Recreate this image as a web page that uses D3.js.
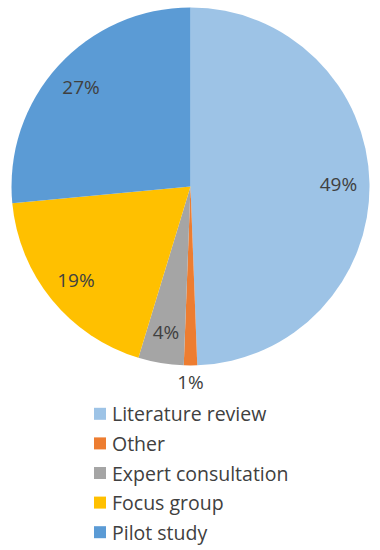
<!DOCTYPE html>
<html>
<head>
<meta charset="utf-8">
<script src="https://cdn.jsdelivr.net/npm/d3@7"></script>
<style>
  body { margin: 0; background: #fff; }
  svg { display: block; font-family: "Open Sans", sans-serif; }
</style>
</head>
<body>
<div id="chart"></div>
<script>
// categories and shares (percent)
const categories = ["Literature review", "Other", "Expert consultation", "Focus group", "Pilot study"];
const shares = [49.4, 1.2, 4.1, 18.8, 26.5];
const colors = ["#9DC3E6", "#ED7D31", "#A5A5A5", "#FFC000", "#5B9BD5"];
// labels sitting outside the pie
const outsideLabels = ["Other"];

const width = 380, height = 550;
const cx = 190.5, cy = 186.5, radius = 179;

const data = categories.map((c, i) => ({ category: c, value: shares[i] }));

const svg = d3.select("#chart").append("svg")
    .attr("width", width)
    .attr("height", height);

const pie = d3.pie().sort(null).value(d => d.value);
const arcs = pie(data);

const arc = d3.arc().innerRadius(0).outerRadius(radius);
const labelArc = d3.arc().innerRadius(148).outerRadius(148);
const outerLabelArc = d3.arc().innerRadius(195).outerRadius(195);

const color = d3.scaleOrdinal().domain(categories).range(colors);

const g = svg.append("g").attr("transform", `translate(${cx},${cy})`);

// slices
g.selectAll("path").data(arcs).enter().append("path")
    .attr("d", arc)
    .attr("fill", d => color(d.data.category));

// percent labels
g.selectAll(".label").data(arcs).enter().append("text")
    .attr("class", "label")
    .attr("transform", d => {
        let a = outsideLabels.includes(d.data.category) ? outerLabelArc : labelArc;
        return `translate(${a.centroid(d)})`;
    })
    .attr("text-anchor", "middle")
    .attr("dominant-baseline", "central")
    .style("font-size", "19px")
    .style("fill", "#404040")
    .text(d => Math.round(d.data.value) + "%");

// legend
const legendY = d3.scaleBand().domain(categories).range([399, 547]);
const legend = svg.append("g").attr("transform", "translate(94,0)");

const rows = legend.selectAll(".row").data(categories).enter().append("g")
    .attr("class", "row")
    .attr("transform", d => `translate(0,${legendY(d) + legendY.bandwidth() / 2})`);

rows.append("rect")
    .attr("x", 0).attr("y", -6)
    .attr("width", 12).attr("height", 12)
    .attr("fill", d => color(d));

rows.append("text")
    .attr("x", 18)
    .attr("dominant-baseline", "central")
    .style("font-size", "19.5px")
    .style("fill", "#404040")
    .text(d => d);
</script>
</body>
</html>
